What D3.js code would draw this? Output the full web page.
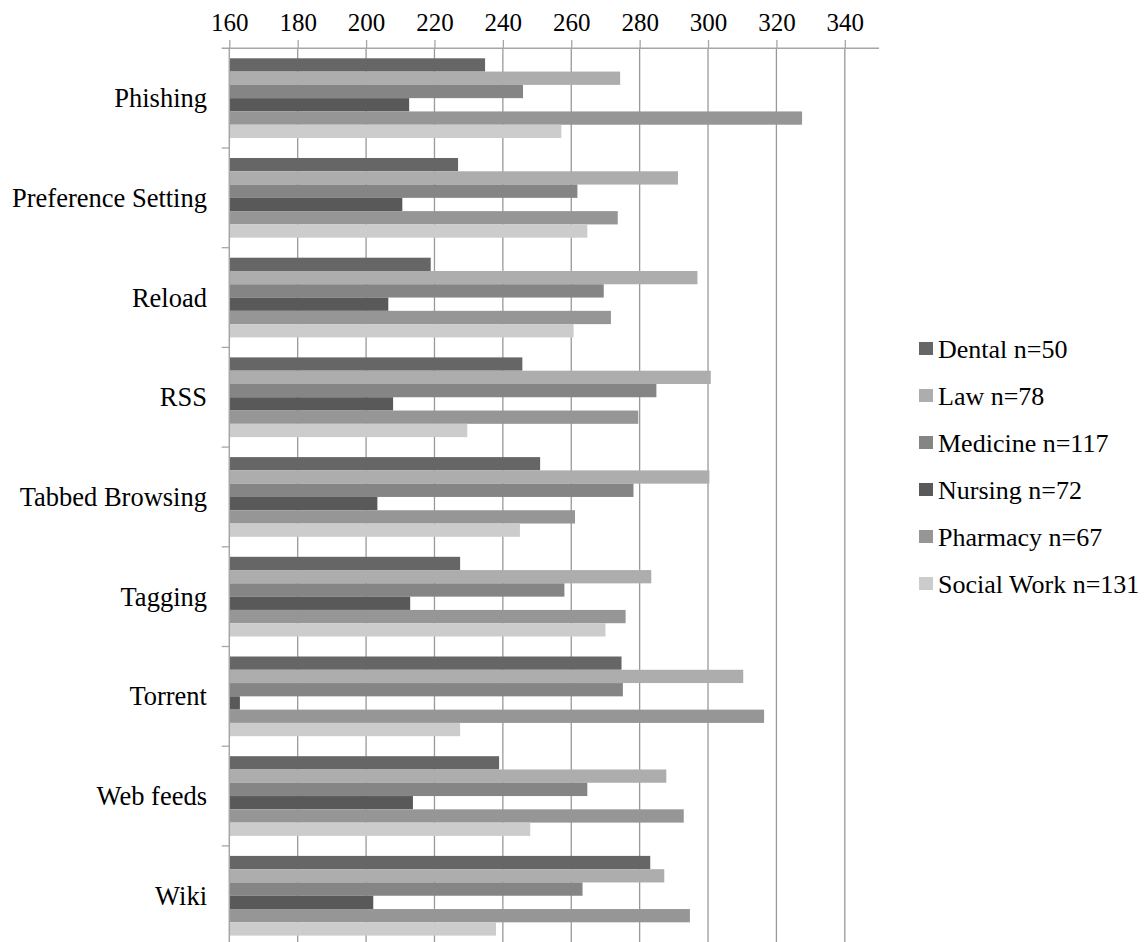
<!DOCTYPE html>
<html>
<head>
<meta charset="utf-8">
<script src="https://cdn.jsdelivr.net/npm/d3@7"></script>
<style>
  html, body { margin: 0; padding: 0; background: #fff; }
  svg { display: block; }
  text { font-family: "Liberation Serif", "Times New Roman", serif; fill: #000; }
</style>
</head>
<body>
<svg id="chart" width="1146" height="942"></svg>
<script>
// Feature categories, top to bottom
const categories = ["Phishing", "Preference Setting", "Reload", "RSS", "Tabbed Browsing",
                    "Tagging", "Torrent", "Web feeds", "Wiki"];

// Respondent groups (one bar per group inside each category)
const groups = ["Dental n=50", "Law n=78", "Medicine n=117", "Nursing n=72",
                "Pharmacy n=67", "Social Work n=131"];

// Scores per group, in category order
const dental     = [234.8, 226.9, 218.9, 245.7, 250.9, 227.5, 274.7, 238.9, 283.1];
const law        = [274.3, 291.2, 296.9, 300.8, 300.4, 283.4, 310.3, 287.8, 287.2];
const medicine   = [245.9, 261.8, 269.5, 284.9, 278.2, 258.0, 275.1, 264.7, 263.3];
const nursing    = [212.6, 210.6, 206.5, 207.9, 203.3, 212.9, 163.1, 213.7, 202.1];
const pharmacy   = [327.5, 273.6, 271.6, 279.6, 261.1, 275.9, 316.4, 292.9, 294.7];
const socialWork = [257.1, 264.7, 260.7, 229.6, 245.0, 270.0, 227.5, 248.0, 238.0];

const seriesValues = [dental, law, medicine, nursing, pharmacy, socialWork];
const seriesColors = ["#666666", "#adadad", "#858585", "#595959", "#969696", "#cccccc"];

const tickValues = [160, 180, 200, 220, 240, 260, 280, 300, 320, 340];
const axisMin = 160, axisMax = 350;

const svg = d3.select("#chart");
const gridColor = "#999999";
const axisColor = "#a6a6a6";

const plotTop = 48.3;
const bandStep = 99.7;

const x = d3.scaleLinear().domain([axisMin, axisMax]).range([229.3, 879]);
const y = d3.scaleBand().domain(categories)
  .range([plotTop, plotTop + bandStep * categories.length]).padding(0);
const yInner = d3.scaleBand().domain(groups)
  .range([10, y.bandwidth() - 10]).padding(0);

// Vertical gridlines
svg.append("g").selectAll("line")
  .data(tickValues.slice(1))
  .join("line")
  .attr("x1", d => x(d)).attr("x2", d => x(d))
  .attr("y1", plotTop).attr("y2", 942)
  .attr("stroke", gridColor).attr("stroke-width", 1.3);

// Bars
const rows = [];
categories.forEach((c, ci) => {
  groups.forEach((g, gi) => {
    rows.push({ cat: c, group: g, value: seriesValues[gi][ci], color: seriesColors[gi] });
  });
});

svg.append("g").selectAll("rect")
  .data(rows)
  .join("rect")
  .attr("x", x(axisMin))
  .attr("y", d => y(d.cat) + yInner(d.group))
  .attr("width", d => x(d.value) - x(axisMin))
  .attr("height", yInner.bandwidth())
  .attr("fill", d => d.color);

// Top value axis
const xAxis = d3.axisTop(x).tickValues(tickValues).tickSize(8.3).tickPadding(9).tickFormat(d3.format("d"));
const gx = svg.append("g").attr("transform", `translate(0,${plotTop})`).call(xAxis);
gx.select(".domain").remove();
gx.selectAll(".tick line").attr("stroke", axisColor).attr("stroke-width", 1.3);
gx.selectAll(".tick text").attr("font-size", 25).attr("font-family", "Liberation Serif").attr("fill", "#000");
gx.append("line")
  .attr("x1", 221.7).attr("x2", x(axisMax))
  .attr("y1", 0).attr("y2", 0)
  .attr("stroke", axisColor).attr("stroke-width", 1.5);

// Left category axis
const gy = svg.append("g");
gy.append("line")
  .attr("x1", x(axisMin)).attr("x2", x(axisMin))
  .attr("y1", plotTop).attr("y2", 942)
  .attr("stroke", axisColor).attr("stroke-width", 1.5);
gy.selectAll("line.tick")
  .data(categories.slice(1))
  .join("line")
  .attr("class", "tick")
  .attr("x1", 221.7).attr("x2", x(axisMin))
  .attr("y1", d => y(d)).attr("y2", d => y(d))
  .attr("stroke", axisColor).attr("stroke-width", 1.3);
gy.selectAll("text")
  .data(categories)
  .join("text")
  .attr("x", 207)
  .attr("y", d => y(d) + y.bandwidth() / 2)
  .attr("text-anchor", "end")
  .attr("dominant-baseline", "central")
  .attr("font-size", 26.5)
  .text(d => d);

// Legend
const legend = svg.append("g").attr("transform", "translate(919,0)");
const legendY = d3.scalePoint().domain(groups).range([349, 584]);
const items = legend.selectAll("g")
  .data(groups.map((g, i) => ({ g, color: seriesColors[i] })))
  .join("g")
  .attr("transform", d => `translate(0,${legendY(d.g)})`);
items.append("rect")
  .attr("x", 0).attr("y", -7).attr("width", 14).attr("height", 13)
  .attr("fill", d => d.color);
items.append("text")
  .attr("x", 19).attr("y", 0)
  .attr("dominant-baseline", "central")
  .attr("font-size", 26)
  .text(d => d.g);
</script>
</body>
</html>
